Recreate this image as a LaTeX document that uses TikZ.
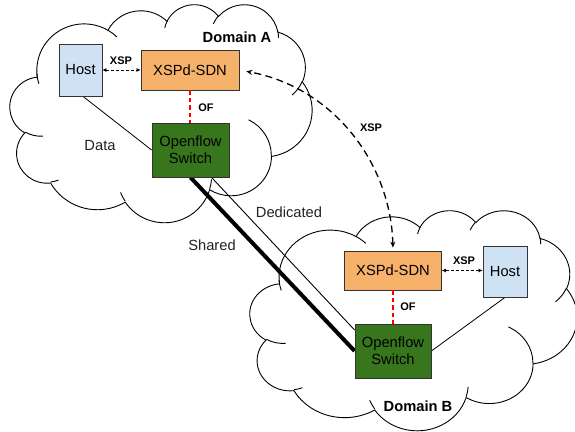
\documentclass[tikz,border=0pt]{standalone}
\usepackage{fontspec}
\setmainfont{Liberation Sans}
\usetikzlibrary{arrows.meta,calc}
\definecolor{hostblue}{HTML}{CFE2F3}
\definecolor{sdnorange}{HTML}{F6B26B}
\definecolor{swgreen}{HTML}{38761D}
\definecolor{edgegray}{HTML}{333333}
\definecolor{txtgray}{HTML}{222222}
\definecolor{ofred}{HTML}{FF0000}
\pgfdeclarelayer{bg}
\pgfsetlayers{bg,main}
% arc of an OOXML-style ellipse: x radius, y radius, visual start angle, sweep
\newcommand\cldarc[4]{arc[x radius=#1, y radius=#2, start angle={atan2(#1*sin(#3),#2*cos(#3))}, delta angle={mod(atan2(#1*sin(#3+#4),#2*cos(#3+#4))-atan2(#1*sin(#3),#2*cos(#3))+720,360)}]}
\newcommand\cloudoutline{(39,143.7)
 \cldarc{67.53}{91.90}{-190.48748}{123.78053}
 \cldarc{53.33}{72.67}{-144.10238}{89.94523}
 \cldarc{43.65}{59.45}{-145.80792}{99.72302}
 \cldarc{48.57}{65.95}{-130.98607}{117.24173}
 \cldarc{53.33}{72.73}{-78.70888}{109.02692}
 \cldarc{67.75}{92.20}{-46.26725}{130.269}
 \cldarc{57.85}{78.67}{0.62502}{114.03333}
 \cldarc{67.52}{92.15}{22.4516}{115.17255}
 \cldarc{77.20}{105.43}{66.24263}{75.71102}
 \cldarc{43.60}{59.18}{-274.94208}{146.73557}
 \cldarc{43.45}{59.45}{-246.8285}{152.51885} -- cycle}
\newcommand\cloudinner{
 (46.93,261.77) \cldarc{43.45}{59.45}{86.742}{26.4295}
 (69.28,348.99) \cldarc{43.60}{59.18}{73.61047}{11.44747}
 (164.78,390.90) \cldarc{67.52}{92.15}{137.62415}{14.0811}
 (288.27,347.51) \cldarc{67.52}{92.15}{6.45327}{15.99835}
 (341.29,229.54) \cldarc{57.85}{78.67}{-70.29235}{70.91737}
 (417.98,153.54) \cldarc{53.33}{72.73}{30.31803}{27.7515}
 (383.24,54.26) \cldarc{48.57}{65.95}{-13.74433}{14.8589}
 (290.78,39.52) \cldarc{48.57}{65.95}{-149.18145}{18.19537}
 (221.41,47.20) \cldarc{43.65}{59.45}{-163.49427}{17.68635}
 (140.00,51.92) \cldarc{67.53}{91.90}{-66.70695}{12.31935}
 (41.27,157.89) \cldarc{67.53}{91.90}{156.38903}{17.10283}}
\newcommand\mainfs{\fontsize{14.7}{16.9}\selectfont}
\newcommand\smallbf{\fontsize{11}{13}\selectfont\bfseries}
\begin{document}
\begin{tikzpicture}[x=1pt,y=-1pt,
  cloudline/.style={draw=black, line width=0.9pt},
  box/.style={draw=edgegray, line width=0.8pt, inner sep=0pt, align=center, font=\mainfs},
  lbl/.style={inner sep=0pt, font=\mainfs, text=txtgray},
  slbl/.style={inner sep=0pt, font=\smallbf, text=black},
  dlbl/.style={inner sep=0pt, font=\fontsize{14.7}{16.9}\selectfont\bfseries, text=black},
  xsparrow/.style={line width=0.8pt, dash pattern=on 3pt off 2pt, {Latex[length=4pt,width=4pt]}-{Latex[length=4pt,width=4pt]}},
  oflink/.style={color=ofred, line width=1.3pt, dash pattern=on 4.5pt off 3pt},
  datalink/.style={line width=0.8pt},
  bigxsp/.style={line width=1.3pt, dash pattern=on 7pt off 4.5pt, {Stealth[length=6pt,width=5pt]}-{Stealth[length=6pt,width=5pt]}}]
\useasboundingbox (0,0) rectangle (575,431);
% clouds
\begin{pgfonlayer}{bg}
\begin{scope}[shift={(10,4)}, x=0.6991pt, y=-0.5046pt]
  \draw[cloudline, fill=white] \cloudoutline;
  \draw[cloudline] \cloudinner;
\end{scope}
\begin{scope}[shift={(250,210)}, x=0.7569pt, y=-0.5093pt]
  \draw[cloudline, fill=white] \cloudoutline;
  \draw[cloudline] \cloudinner;
\end{scope}
\end{pgfonlayer}
% Domain A
\node[box, fill=hostblue, minimum width=43pt, minimum height=52pt] (hostA) at (80.5,70) {Host};
\node[box, fill=sdnorange, minimum width=98pt, minimum height=40pt] (xspA) at (190,70) {XSPd-SDN};
\node[box, fill=swgreen, minimum width=77pt, minimum height=54pt] (swA) at (190.5,150) {Openflow\\Switch};
\node[dlbl] (domA) at (237,37) {Domain A};
% Domain B
\node[box, fill=sdnorange, minimum width=97pt, minimum height=39pt] (xspB) at (393,270.5) {XSPd-SDN};
\node[box, fill=hostblue, minimum width=44pt, minimum height=51pt] (hostB) at (505,271.5) {Host};
\node[box, fill=swgreen, minimum width=76pt, minimum height=54pt] (swB) at (393,351) {Openflow\\Switch};
\node[dlbl] (domB) at (418,406) {Domain B};
% labels
\node[slbl] (xspAl) at (121,61) {XSP};
\node[slbl] (xspBl) at (464,261) {XSP};
\node[slbl] (ofA) at (206,108) {OF};
\node[slbl] (ofB) at (408,307) {OF};
\node[slbl] (xspC) at (371,128) {XSP};
\node[lbl] (data) at (100,146) {Data};
\node[lbl] (ded) at (289,212) {Dedicated};
\node[lbl] (shared) at (212,245) {Shared};
% links
\begin{pgfonlayer}{bg}
\draw[line width=4pt] (swA.south) -- (swB.west);
\draw[line width=0.9pt] ([xshift=21pt]swA.south) -- ([yshift=21pt]swB.west);
\draw[datalink] ([xshift=2.5pt]hostA.south) -- (swA.west);
\draw[datalink] (hostB.south) -- (swB.east);
\end{pgfonlayer}
\draw[oflink] (xspA.south) -- (xspA.south |- swA.north);
\draw[oflink] (xspB.south) -- (swB.north);
\draw[xsparrow] (hostA.east) -- (xspA.west);
\draw[xsparrow] (xspB.east) -- (xspB.east -| hostB.west);
\draw[bigxsp, shorten <=3pt, shorten >=7pt] (xspB.north) .. controls (391,165) and (335,88) .. (xspA.east);
\end{tikzpicture}
\end{document}
